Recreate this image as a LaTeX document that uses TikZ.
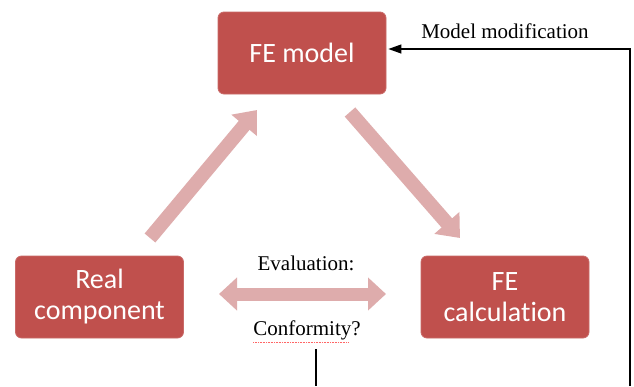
\documentclass[tikz,border=0pt]{standalone}
\usepackage{fontspec}
\setmainfont{Liberation Serif}
\newfontfamily\boxfont[Ligatures=NoCommon]{Carlito}
\usetikzlibrary{arrows.meta}
\definecolor{boxred}{RGB}{192,80,77}
\definecolor{palepink}{RGB}{222,172,172}
\begin{document}
\begin{tikzpicture}[x=1pt,y=-1pt,
  redbox/.style={fill=boxred,draw=boxred!85!white,line width=0.8pt,rounded corners=6pt,
    minimum width=168pt,minimum height=82pt,text=white,align=center,
    font=\boxfont\fontsize{28}{31}\selectfont},
  pale/.style={draw=palepink,line width=14pt,-{Triangle[width=32pt,length=20pt]}},
  palebi/.style={draw=palepink,line width=13pt,{Triangle[width=32pt,length=18pt]}-{Triangle[width=32pt,length=18pt]}},
  lbl/.style={font=\fontsize{21}{24}\selectfont,inner sep=1pt},
  fb/.style={line width=1.2pt,-{Triangle[width=9pt,length=13pt]}}]
\useasboundingbox (0,0) rectangle (634,386);
\fill[white] (0,0) rectangle (634,386);
\node[redbox] (fem) at (302,53) {FE model};
\node[redbox] (real) at (99.5,297) {Real\\component};
\node[redbox] (calc) at (505,297) {FE\\calculation};
\coordinate (a1s) at (150,238);
\coordinate (a1e) at (257,110);
\coordinate (a2s) at (350,112);
\coordinate (a2e) at (460,238);
\draw[pale] (a1s) -- (a1e);
\draw[pale] (a2s) -- (a2e);
\coordinate (bl) at (219,294);
\coordinate (br) at (386,294);
\draw[palebi] (bl) -- (br);
\node[lbl] (eval) at (306,263) {Evaluation:};
\node[lbl] (conf) at (307,330) {Conformity?};
\draw[red!60,densely dotted,line width=0.6pt] ([xshift=1pt,yshift=-1pt]conf.south west) -- ([xshift=-14pt,yshift=-1pt]conf.south east);
\node[lbl] (mod) at (505,31) {Model modification};
\coordinate (vt) at (316,349);
\coordinate (vb) at (316,386);
\draw[line width=1.2pt] (vt) -- (vb);
\coordinate (rb) at (630,386);
\draw[fb] (rb) |- ([xshift=2pt,yshift=4pt]fem.east);
\end{tikzpicture}
\end{document}
